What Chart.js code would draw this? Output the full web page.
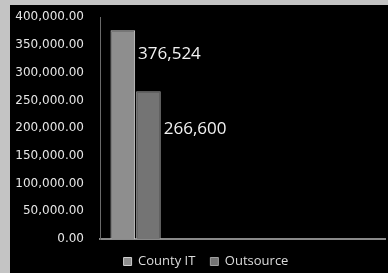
<!DOCTYPE html>
<html>
<head>
<meta charset="utf-8">
<script src="https://cdn.jsdelivr.net/npm/chart.js@4/dist/chart.umd.min.js"></script>
<style>
  html, body { margin: 0; padding: 0; background: #c4c4c4; }
  body { width: 388px; height: 273px; position: relative; overflow: hidden; }
  #wrap { position: absolute; left: 10px; top: 5px; width: 378px; height: 268px; background: #000; overflow: hidden; }
  #c { position: absolute; left: 0; top: -11px; }
</style>
</head>
<body>
<div id="wrap"><canvas id="c" width="378" height="284"></canvas></div>
<script>
const categories = ['', '', '', ''];
const countyIT = [376524, null, null, null];
const outsource = [266600, null, null, null];
const seriesNames = ['County IT', 'Outsource'];
const yTicks = [0, 50000, 100000, 150000, 200000, 250000, 300000, 350000, 400000];

const labelOffsets = [24, 38];

const dataLabels = {
  id: 'dataLabels',
  afterDatasetsDraw(chart) {
    const ctx = chart.ctx;
    ctx.save();
    ctx.font = '17px "Open Sans", sans-serif';
    ctx.fillStyle = '#f2f2f2';
    ctx.textAlign = 'left';
    ctx.textBaseline = 'middle';
    chart.data.datasets.forEach((ds, i) => {
      const meta = chart.getDatasetMeta(i);
      ds.data.forEach((v, j) => {
        if (v == null) return;
        const bar = meta.data[j];
        ctx.fillText(v.toLocaleString('en-US'), bar.x + bar.width / 2 + 3, bar.y + labelOffsets[i]);
      });
    });
    ctx.restore();
  }
};

const legendShift = {
  id: 'legendShift',
  afterLayout(chart) {
    if (chart.legend) { chart.legend.left += 6; chart.legend.right += 6; }
  }
};

new Chart(document.getElementById('c'), {
  type: 'bar',
  data: {
    labels: categories,
    datasets: [
      { label: seriesNames[0], data: countyIT, backgroundColor: '#8e8e8e', borderColor: '#cfcfcf', borderWidth: 1, categoryPercentage: 0.72, barPercentage: 0.96 },
      { label: seriesNames[1], data: outsource, backgroundColor: '#747474', borderColor: '#a0a0a0', borderWidth: 1, categoryPercentage: 0.72, barPercentage: 0.96 }
    ]
  },
  options: {
    responsive: false,
    animation: false,
    layout: { padding: { left: 5, right: 3, top: 0, bottom: 0 } },
    plugins: {
      legend: {
        position: 'bottom',
        labels: {
          color: '#dcdcdc',
          font: { family: '"Open Sans", sans-serif', size: 13 },
          boxWidth: 8, boxHeight: 8, padding: 15
        }
      },
      tooltip: { enabled: false }
    },
    scales: {
      x: {
        afterFit(scale) { scale.height = 1; },
        grid: { display: false, drawTicks: false },
        border: { color: '#8a8a8a', width: 2 },
        ticks: { display: false }
      },
      y: {
        min: 0, max: 400000,
        afterFit(scale) { scale.width = 85; },
        afterBuildTicks(scale) { scale.ticks = yTicks.map(v => ({ value: v })); },
        grid: { display: false, drawTicks: false },
        border: { color: '#6a6a6a', width: 1, dash: [1, 3] },
        ticks: {
          color: '#e6e6e6',
          padding: 16,
          font: { family: '"DejaVu Sans", sans-serif', size: 12 },
          callback: v => v.toLocaleString('en-US', { minimumFractionDigits: 2, maximumFractionDigits: 2 })
        }
      }
    }
  },
  plugins: [dataLabels, legendShift]
});
</script>
</body>
</html>
